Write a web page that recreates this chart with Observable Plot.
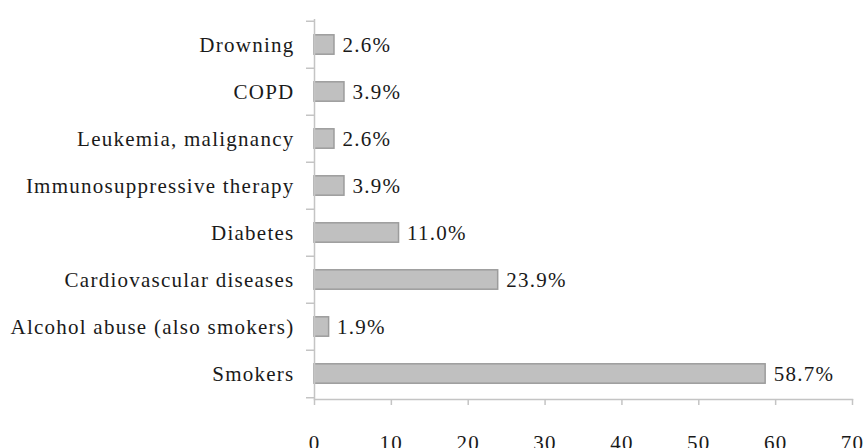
<!DOCTYPE html>
<html>
<head>
<meta charset="utf-8">
<script src="https://cdn.jsdelivr.net/npm/d3@7"></script>
<script src="https://cdn.jsdelivr.net/npm/@observablehq/plot@0.6"></script>
<style>
  html, body { margin: 0; padding: 0; background: white; }
  svg, svg text { font-family: "Liberation Serif", "DejaVu Serif", serif !important; letter-spacing: 1.25px; }
</style>
</head>
<body>
<div id="chart"></div>
<script>
const causes = [
  "Drowning",
  "COPD",
  "Leukemia, malignancy",
  "Immunosuppressive therapy",
  "Diabetes",
  "Cardiovascular diseases",
  "Alcohol abuse (also smokers)",
  "Smokers"
];
const shares = [2.6, 3.9, 2.6, 3.9, 11.0, 23.9, 1.9, 58.7];
const xTicks = [0, 10, 20, 30, 40, 50, 60, 70];

const data = causes.map((c, i) => ({cause: c, share: shares[i]}));

const axisGray = "#c4c4c4";
const halfBand = (448 - 19 - 49) / causes.length / 2;

const chart = Plot.plot({
  width: 864,
  height: 448,
  marginLeft: 314,
  marginRight: 12,
  marginTop: 19,
  marginBottom: 49,
  style: {fontSize: "21px", color: "#1a1a1a", background: "white"},
  x: {domain: [0, 70]},
  y: {domain: causes, padding: 0},
  marks: [
    Plot.barX(data, {x: "share", y: "cause", fill: "#c0c0c0", stroke: "#9c9c9c", strokeWidth: 1.5, insetTop: 13.8, insetBottom: 13.8}),
    Plot.ruleX([0], {stroke: axisGray, strokeWidth: 1.5}),
    Plot.frame({anchor: "bottom", stroke: axisGray, strokeWidth: 1.5}),
    Plot.axisX({ticks: xTicks, tickSize: 6, tickPadding: 30, stroke: axisGray, strokeWidth: 1.5, fill: "#1a1a1a", label: null, tickFormat: d => String(d)}),
    Plot.axisY({tickSize: 0, tickPadding: 20, label: null, fill: "#1a1a1a"}),
    Plot.axisY({tickSize: 8, text: null, label: null, dy: -halfBand, stroke: axisGray, strokeWidth: 1.5}),
    Plot.axisY({ticks: [causes[causes.length - 1]], tickSize: 8, text: null, label: null, dy: halfBand, stroke: axisGray, strokeWidth: 1.5}),
    Plot.text(data, {x: "share", y: "cause", text: d => d.share.toFixed(1) + "%", textAnchor: "start", dx: 8, fill: "#1a1a1a"})
  ]
});
document.getElementById("chart").appendChild(chart);
</script>
</body>
</html>
